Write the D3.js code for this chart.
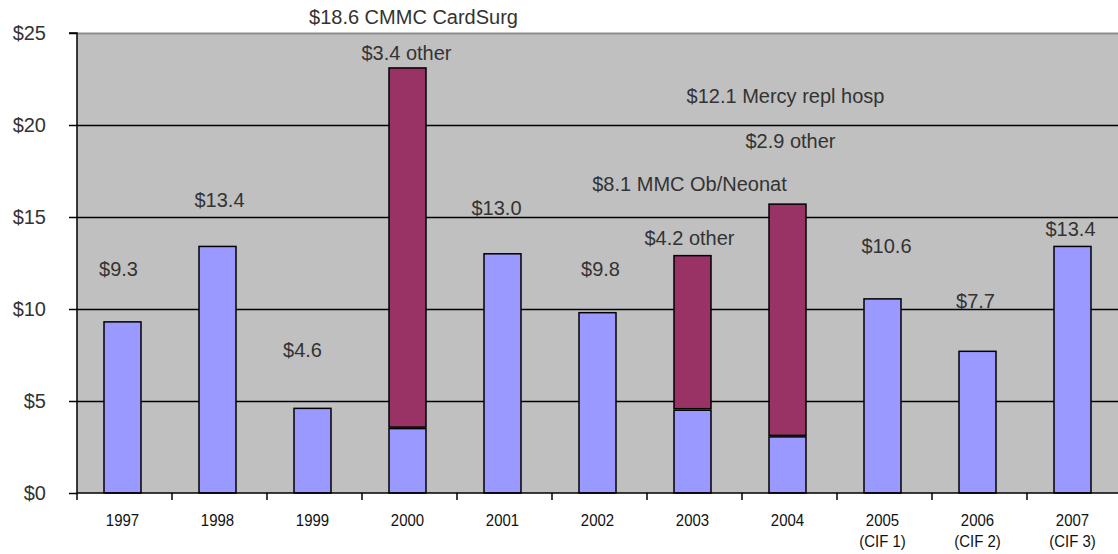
<!DOCTYPE html>
<html>
<head>
<meta charset="utf-8">
<script src="https://cdn.jsdelivr.net/npm/d3@7.9.0/dist/d3.min.js"></script>
<style>
  html, body { margin: 0; padding: 0; background: #fff; }
  svg { display: block; font-family: "Liberation Sans", Arial, sans-serif; }
</style>
</head>
<body>
<svg id="chart" width="1118" height="554"></svg>
<script>
// ---------- Data ----------
const years = ["1997", "1998", "1999", "2000", "2001", "2002", "2003", "2004", "2005", "2006", "2007"];
const yearSub = ["", "", "", "", "", "", "", "", "(CIF 1)", "(CIF 2)", "(CIF 3)"];

// base spending (blue) and one-time projects (purple), $ millions
const baseValues = [9.3, 13.4, 4.6, 3.5, 13.0, 9.8, 4.5, 3.05, 10.55, 7.7, 13.4];
const projectValues = [0, 0, 0, 19.6, 0, 0, 8.4, 12.65, 0, 0, 0];

const yTicks = [0, 5, 10, 15, 20, 25];

// value labels: text, category, vertical anchor (in $)
const labelText = [
  "$9.3", "$13.4", "$4.6", "$3.4 other", "$18.6 CMMC CardSurg", "$13.0", "$9.8",
  "$4.2 other", "$8.1 MMC Ob/Neonat", "$2.9 other", "$12.1 Mercy repl hosp",
  "$10.6", "$7.7", "$13.4"
];
const labelYear = [
  "1997", "1998", "1999", "2000", "2000", "2001", "2002",
  "2003", "2003", "2004", "2004", "2005", "2006", "2007"
];
const labelValue = [12.07, 15.84, 7.66, 23.8, 25.8, 15.38, 12.07, 13.78, 16.68, 19.02, 21.47, 13.32, 10.33, 14.24];
// small horizontal nudges (px) off the category centre
const labelNudge = [-4, 2, -10, -1, 6, -6, 3, -3, -3, 3, -2, 4, -2, -2];

// ---------- Layout ----------
const width = 1118;
const height = 554;
const plot = { left: 77, right: 1122, top: 33, bottom: 493 };

const svg = d3.select("#chart");

const x = d3.scaleBand().domain(years).range([plot.left, plot.right]);
const y = d3.scaleLinear().domain([0, 25]).range([plot.bottom, plot.top]);

const barW = 37;
const barX = (yr) => x(yr) + 27;
const barMid = (yr) => barX(yr) + barW / 2;

// plot background
svg.append("rect")
  .attr("x", plot.left)
  .attr("y", plot.top)
  .attr("width", plot.right - plot.left)
  .attr("height", plot.bottom - plot.top)
  .attr("fill", "#c0c0c0");

// top border of plot area
svg.append("line")
  .attr("x1", plot.left).attr("x2", width)
  .attr("y1", plot.top + 0.5).attr("y2", plot.top + 0.5)
  .attr("stroke", "#8c8c8c")
  .attr("stroke-width", 2);

// value labels sit under the gridlines
svg.append("g")
  .attr("class", "labels")
  .selectAll("text")
  .data(labelText)
  .join("text")
  .attr("x", (d, i) => barMid(labelYear[i]) + labelNudge[i])
  .attr("y", (d, i) => y(labelValue[i]))
  .attr("text-anchor", "middle")
  .attr("dominant-baseline", "middle")
  .attr("font-size", 20)
  .attr("fill", "#333")
  .text((d) => d);

// gridlines
svg.append("g")
  .attr("class", "grid")
  .selectAll("line")
  .data(yTicks.filter((t) => t > 0 && t < 25))
  .join("line")
  .attr("x1", plot.left).attr("x2", width)
  .attr("y1", (d) => Math.round(y(d)) + 0.5)
  .attr("y2", (d) => Math.round(y(d)) + 0.5)
  .attr("stroke", "#000")
  .attr("stroke-width", 1.5);

// bars
const bars = svg.append("g").attr("class", "bars");

bars.selectAll("rect.base")
  .data(years)
  .join("rect")
  .attr("class", "base")
  .attr("x", (d) => barX(d))
  .attr("width", barW)
  .attr("y", (d, i) => y(baseValues[i]))
  .attr("height", (d, i) => y(0) - y(baseValues[i]))
  .attr("fill", "#9999ff")
  .attr("stroke", "#000")
  .attr("stroke-width", 1.5);

bars.selectAll("rect.project")
  .data(years.filter((d, i) => projectValues[i] > 0))
  .join("rect")
  .attr("class", "project")
  .attr("x", (d) => barX(d))
  .attr("width", barW)
  .attr("y", (d) => {
    const i = years.indexOf(d);
    return y(baseValues[i] + projectValues[i]);
  })
  .attr("height", (d) => {
    const i = years.indexOf(d);
    return y(baseValues[i]) - y(baseValues[i] + projectValues[i]) - 1.5;
  })
  .attr("fill", "#993366")
  .attr("stroke", "#000")
  .attr("stroke-width", 1.5);

// y axis
const yAxis = d3.axisLeft(y)
  .tickValues(yTicks)
  .tickSize(8)
  .tickPadding(23)
  .tickFormat((d) => "$" + d);

const yG = svg.append("g")
  .attr("transform", `translate(${plot.left},0)`)
  .call(yAxis);
yG.select(".domain").attr("stroke", "#000").attr("stroke-width", 1.5)
  .attr("d", `M-8,${plot.top}H0V${plot.bottom}`);
yG.selectAll(".tick line").attr("stroke", "#000").attr("stroke-width", 1.5);
yG.selectAll(".tick text")
  .attr("font-size", 20)
  .attr("font-family", "Liberation Sans, Arial, sans-serif")
  .attr("fill", "#333");

// x axis: ticks at category boundaries
const xG = svg.append("g").attr("class", "x-axis");
xG.append("line")
  .attr("x1", plot.left).attr("x2", width)
  .attr("y1", plot.bottom).attr("y2", plot.bottom)
  .attr("stroke", "#000")
  .attr("stroke-width", 1.5);

xG.selectAll("line.tick")
  .data(years)
  .join("line")
  .attr("class", "tick")
  .attr("x1", (d) => x(d)).attr("x2", (d) => x(d))
  .attr("y1", plot.bottom).attr("y2", plot.bottom + 7)
  .attr("stroke", "#000")
  .attr("stroke-width", 1.5);

const xLabels = xG.selectAll("text")
  .data(years)
  .join("text")
  .attr("transform", (d) => `translate(${barMid(d)},526) scale(0.88,1)`)
  .attr("text-anchor", "middle")
  .attr("font-size", 17)
  .attr("fill", "#111");

xLabels.append("tspan").attr("x", 0).attr("y", 0).text((d) => d);
xLabels.append("tspan")
  .attr("x", 0)
  .attr("y", 21)
  .text((d, i) => yearSub[i]);
</script>
</body>
</html>
